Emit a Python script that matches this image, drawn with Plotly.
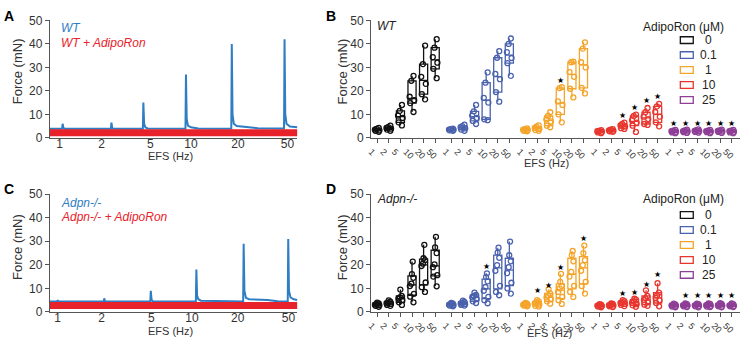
import plotly.graph_objects as go

FONT = "Liberation Sans, Arial, sans-serif"
W, H = 740, 349

freq_labels = ["1", "2", "5", "10", "20", "50"]
dose_labels = ["0", "0.1", "1", "10", "25"]
dose_colors = ["#111111", "#4a62ad", "#f5a42a", "#e8362f", "#8e3f96"]
trace_blue = "#2f7dc2"
trace_red = "#e8222a"

# ---------------- Panel A (WT traces) ----------------
A_tick_pos = [4.0, 20.9, 40.6, 57.0, 76.0, 96.0]
A_wt_t = [0, 5.0, 5.2, 5.5, 6.0, 24.7, 24.9, 25.2, 25.6, 37.6, 37.8, 38.1, 38.6, 39.5,
          54.8, 55.0, 55.3, 55.8, 57.0, 60.0, 73.3, 73.5, 73.8, 74.3, 75.5, 80.0, 84.0,
          94.6, 94.8, 95.1, 95.6, 97.0, 100]
A_wt_f = [3.9, 3.9, 6.0, 4.2, 3.9, 3.9, 6.5, 4.3, 3.9, 3.9, 15.0, 6.0, 4.5, 4.0,
          3.9, 27.0, 8.0, 5.2, 4.5, 4.0, 3.9, 40.0, 10.0, 6.0, 5.0, 4.6, 4.1,
          4.0, 42.0, 10.0, 6.0, 4.8, 4.5]
A_ar_t = [0, 100]
A_ar_f = [2.15, 2.15]

# ---------------- Panel C (Adpn-/- traces) ----------------
C_tick_pos = [3.2, 20.9, 41.0, 57.4, 75.9, 96.4]
C_ko_t = [0, 3.0, 3.2, 3.5, 21.8, 22.0, 22.3, 40.6, 40.8, 41.1, 41.6, 59.0, 59.2, 59.5,
          60.0, 61.0, 78.1, 78.3, 78.6, 79.2, 80.5, 88.0, 92.0, 96.1, 96.3, 96.6, 97.2,
          98.5, 100]
C_ko_f = [4.4, 4.4, 5.0, 4.4, 4.4, 5.8, 4.4, 4.4, 9.0, 5.2, 4.5, 4.4, 18.0, 7.0,
          5.4, 4.8, 4.4, 29.0, 9.0, 6.0, 5.4, 5.1, 4.5, 4.4, 31.0, 9.0, 6.2,
          5.4, 5.1]
C_ar_t = [0, 100]
C_ar_f = [2.7, 2.7]

# ---------------- Panel B (WT, force by dose and EFS) ----------------
WT_0 = [[2.6, 3.0, 3.2, 3.5, 3.8, 4.2],
        [3.0, 3.5, 3.9, 4.2, 4.6, 5.2],
        [5.3, 6.6, 8.5, 9.5, 11.5, 14.0],
        [11.0, 14.8, 16.0, 17.5, 24.3, 26.4],
        [16.4, 18.6, 23.0, 26.0, 31.4, 39.3],
        [25.4, 29.4, 32.0, 34.4, 38.4, 42.0]]
WT_01 = [[3.0, 3.2, 3.4, 3.5, 3.7, 3.9],
         [3.0, 3.5, 4.0, 4.5, 5.0, 5.6],
         [5.9, 7.2, 8.5, 9.5, 11.3, 14.0],
         [7.5, 7.9, 15.0, 17.0, 23.5, 27.9],
         [15.4, 19.5, 25.0, 27.2, 34.1, 36.9],
         [26.4, 31.8, 34.0, 36.5, 40.0, 42.3]]
WT_1 = [[2.8, 3.0, 3.3, 3.5, 3.7, 4.0],
        [3.0, 3.3, 3.8, 4.2, 4.8, 5.3],
        [4.5, 5.2, 7.0, 7.8, 9.3, 10.9],
        [6.6, 10.0, 14.0, 15.5, 21.2, 21.6],
        [17.2, 20.9, 26.0, 28.0, 32.2, 32.5],
        [18.9, 21.3, 30.0, 32.2, 38.0, 40.7]]
WT_10 = [[2.0, 2.3, 2.6, 2.8, 3.0, 3.3],
         [2.6, 2.8, 3.0, 3.2, 3.5, 3.7],
         [3.8, 4.1, 4.8, 5.3, 5.9, 6.5],
         [2.5, 5.2, 6.5, 7.5, 9.3, 9.9],
         [5.5, 5.9, 8.0, 9.0, 10.9, 12.7],
         [4.9, 6.6, 9.0, 11.0, 13.4, 14.5]]
WT_25 = [[2.0, 2.3, 2.6, 2.8, 3.1, 3.4],
         [2.1, 2.4, 2.7, 2.9, 3.2, 3.5],
         [2.2, 2.5, 2.8, 3.0, 3.3, 3.6],
         [2.0, 2.4, 2.6, 2.9, 3.1, 3.4],
         [2.1, 2.5, 2.7, 3.0, 3.2, 3.5],
         [2.0, 2.3, 2.6, 2.9, 3.1, 3.4]]
# significance stars: (dose index, EFS index, force level)
WT_star_dose = [2, 3, 3, 3, 3, 4, 4, 4, 4, 4, 4]
WT_star_efs = [3, 2, 3, 4, 5, 0, 1, 2, 3, 4, 5]
WT_star_y = [24.3, 9.6, 13.1, 15.8, 17.5, 6.3, 6.3, 6.3, 6.3, 6.3, 6.3]

# ---------------- Panel D (Adpn-/-) ----------------
KO_0 = [[2.2, 2.6, 2.9, 3.1, 3.3, 3.6, 4.0],
        [2.6, 3.0, 3.4, 3.7, 4.0, 4.4, 4.9],
        [3.0, 4.1, 5.0, 5.6, 6.2, 6.8, 9.5],
        [4.1, 6.5, 7.7, 11.0, 12.0, 14.5, 16.1, 21.4],
        [8.5, 10.5, 12.5, 19.5, 20.5, 22.0, 22.8, 28.5],
        [10.9, 15.0, 15.6, 19.0, 20.2, 25.0, 27.4, 31.9]]
KO_01 = [[2.4, 2.7, 2.9, 3.1, 3.3, 3.5, 3.8],
         [2.7, 3.0, 3.3, 3.6, 3.9, 4.3, 4.8],
         [3.8, 4.5, 5.5, 6.2, 6.8, 7.2, 8.2],
         [3.7, 5.0, 6.4, 9.0, 10.6, 13.0, 14.8, 16.4],
         [7.1, 8.5, 11.1, 17.5, 19.9, 23.0, 25.2, 27.3],
         [7.8, 10.0, 12.4, 16.5, 19.0, 21.5, 24.1, 29.9]]
KO_1 = [[2.4, 2.7, 2.9, 3.1, 3.3, 3.5, 3.8],
        [2.3, 2.6, 3.1, 3.6, 4.1, 4.5, 5.0],
        [3.5, 4.5, 5.4, 6.2, 7.0, 7.9, 9.6],
        [3.4, 5.0, 6.4, 8.5, 10.0, 11.0, 12.8, 16.2],
        [6.4, 8.5, 11.1, 15.0, 17.0, 21.5, 24.1, 25.9],
        [7.8, 11.0, 12.8, 17.5, 19.9, 22.0, 25.0, 28.2]]
KO_10 = [[2.0, 2.3, 2.5, 2.7, 2.9, 3.1, 3.3],
         [2.1, 2.4, 2.7, 2.9, 3.1, 3.4, 3.6],
         [2.5, 3.0, 3.4, 3.8, 4.2, 4.6, 5.0],
         [2.2, 2.8, 3.3, 3.9, 4.6, 5.2, 5.6],
         [2.6, 3.1, 4.2, 5.0, 5.8, 6.8, 9.2],
         [2.4, 3.8, 5.0, 6.0, 7.0, 8.2, 12.2]]
KO_25 = [[2.0, 2.3, 2.6, 2.8, 3.0, 3.2, 3.5],
         [2.1, 2.4, 2.7, 2.9, 3.1, 3.3, 3.6],
         [2.0, 2.4, 2.6, 2.8, 3.1, 3.3, 3.5],
         [2.1, 2.3, 2.6, 2.9, 3.1, 3.4, 3.6],
         [2.0, 2.4, 2.7, 2.9, 3.2, 3.4, 3.7],
         [2.1, 2.4, 2.6, 2.8, 3.0, 3.3, 3.6]]
KO_star_dose = [1, 2, 2, 2, 2, 3, 3, 3, 3, 4, 4, 4, 4, 4]
KO_star_efs = [3, 1, 2, 3, 5, 2, 3, 4, 5, 1, 2, 3, 4, 5]
KO_star_y = [19.2, 9.0, 11.3, 18.8, 31.3, 8.0, 8.4, 11.5, 15.8, 6.8, 6.8, 6.8, 6.8, 6.8]

STRIDE = 6.4


def px_x(px):
    return px / W


def px_y(px):
    return 1 - px / H


fig = go.Figure()

# trace panels
fig.add_trace(go.Scatter(x=A_wt_t, y=A_wt_f, mode="lines", line=dict(color=trace_blue, width=2),
                         xaxis="x", yaxis="y", showlegend=False, hoverinfo="skip"))
fig.add_trace(go.Scatter(x=A_ar_t, y=A_ar_f, mode="lines", line=dict(color=trace_red, width=7),
                         xaxis="x", yaxis="y", showlegend=False, hoverinfo="skip"))
fig.add_trace(go.Scatter(x=C_ko_t, y=C_ko_f, mode="lines", line=dict(color=trace_blue, width=2),
                         xaxis="x3", yaxis="y3", showlegend=False, hoverinfo="skip"))
fig.add_trace(go.Scatter(x=C_ar_t, y=C_ar_f, mode="lines", line=dict(color=trace_red, width=7),
                         xaxis="x3", yaxis="y3", showlegend=False, hoverinfo="skip"))


def add_boxes(groups, xa, ya):
    for g, (data, color) in enumerate(zip(groups, dose_colors)):
        for i, vals in enumerate(data):
            fig.add_trace(go.Box(
                x=[g * STRIDE + i] * len(vals), y=vals, xaxis=xa, yaxis=ya,
                width=0.7, boxpoints="all", jitter=0.7, pointpos=0,
                quartilemethod="exclusive", whiskerwidth=0, fillcolor="white",
                line=dict(color=color, width=1.3),
                marker=dict(symbol="circle-open", size=5, color=color, line=dict(width=1.3)),
                showlegend=False, hoverinfo="skip"))


add_boxes([WT_0, WT_01, WT_1, WT_10, WT_25], "x2", "y2")
add_boxes([KO_0, KO_01, KO_1, KO_10, KO_25], "x4", "y4")

box_tickvals = [g * STRIDE + i for g in range(len(dose_labels)) for i in range(len(freq_labels))]
box_ticktext = freq_labels * len(dose_labels)

LINE = "#555555"
TICKC = "#333333"
yA_dom = [px_y(136.3), px_y(14)]
yC_dom = [px_y(317.7), px_y(195)]
y_common = dict(range=[0, 50], tickvals=[0, 10, 20, 30, 40, 50], showline=True, linecolor=LINE,
                linewidth=1, ticks="outside", ticklen=4, tickcolor=LINE, showgrid=False,
                zeroline=False, tickfont=dict(size=12, color=TICKC, family=FONT))
xtrace_common = dict(range=[0, 100], showline=True, linecolor=LINE, linewidth=1, ticks="",
                     ticklen=0, ticklabelstandoff=-5,
                     showgrid=False, zeroline=False, ticktext=freq_labels,
                     tickfont=dict(size=12, color=TICKC, family=FONT))
xbox_common = dict(range=[-0.54, 31.31], showline=True, linecolor=LINE, linewidth=1.2,
                   ticks="outside", ticklen=4, tickcolor=LINE, showgrid=False, zeroline=False,
                   tickvals=box_tickvals, ticktext=box_ticktext, tickangle=45,
                   ticklabelshift=-6,
                   tickfont=dict(size=9, color=TICKC, family=FONT))

fig.update_layout(
    width=W, height=H, margin=dict(l=0, r=0, t=0, b=0),
    paper_bgcolor="white", plot_bgcolor="white",
    font=dict(family=FONT, color="#222222"),
    xaxis=dict(domain=[px_x(46), px_x(295)], anchor="y", tickvals=A_tick_pos, **xtrace_common),
    yaxis=dict(domain=yA_dom, anchor="x", **y_common),
    xaxis2=dict(domain=[px_x(369), 1.0], anchor="y2", **xbox_common),
    yaxis2=dict(domain=yA_dom, anchor="x2", **y_common),
    xaxis3=dict(domain=[px_x(46), px_x(295)], anchor="y3", tickvals=C_tick_pos, **xtrace_common),
    yaxis3=dict(domain=yC_dom, anchor="x3", **y_common),
    xaxis4=dict(domain=[px_x(369), 1.0], anchor="y4", **xbox_common),
    yaxis4=dict(domain=yC_dom, anchor="x4", **y_common),
)

ann = []


def text(px, py, s, size=12, color="#222222", angle=0, xanchor="center", bold=False, italic=False):
    if italic:
        s = "<i>" + s + "</i>"
    if bold:
        s = "<b>" + s + "</b>"
    ann.append(dict(x=px_x(px), y=px_y(py), xref="paper", yref="paper", text=s, showarrow=False,
                    textangle=angle, xanchor=xanchor, yanchor="middle",
                    font=dict(size=size, color=color, family=FONT)))


# panel letters
text(5, 9, "A", size=14, bold=True, color="#000")
text(329, 9, "B", size=14, bold=True, color="#000")
text(5, 190, "C", size=14, bold=True, color="#000")
text(329, 190, "D", size=14, bold=True, color="#000")
# axis titles
for (xp, yp) in [(13, 67), (340, 67), (14, 250), (341, 250)]:
    text(xp, yp, "Force (mN)", size=13, angle=-90, color="#333")
for (xp, yp) in [(167, 155), (545, 163), (167, 338), (548, 340)]:
    text(xp, yp, "EFS (Hz)", size=11, color="#333")
# trace legends
text(55, 22, "WT", size=12, color=trace_blue, xanchor="left", italic=True)
text(55, 38, "WT + AdipoRon", size=12, color=trace_red, xanchor="left", italic=True)
text(55, 204, "Adpn-/-", size=12, color=trace_blue, xanchor="left", italic=True)
text(55, 219, "Adpn-/- + AdipoRon", size=12, color=trace_red, xanchor="left", italic=True)
# genotype labels in box panels
text(373, 20, "WT", size=12, color="#222", xanchor="left", italic=True)
text(373, 200, "Adpn-/-", size=12, color="#222", xanchor="left", italic=True)

# dose legends
shapes = []
for title_y, row0 in [(20.7, 34.5), (200, 216.7)]:
    text(683, title_y, "AdipoRon (μM)", size=12, color="#222")
    for k, (lab, col) in enumerate(zip(dose_labels, dose_colors)):
        cy = row0 + k * 15.6
        shapes.append(dict(type="rect", xref="paper", yref="paper",
                           x0=px_x(680), x1=px_x(693), y0=px_y(cy + 3.5), y1=px_y(cy - 3.5),
                           line=dict(color=col, width=1.3), fillcolor="white"))
        text(708.5, cy, lab, size=12, color="#222")

# significance stars
for sd, se, sy in zip(WT_star_dose, WT_star_efs, WT_star_y):
    ann.append(dict(x=sd * STRIDE + se, y=sy, xref="x2", yref="y2", text="★", showarrow=False,
                    font=dict(size=8, color="#000", family="DejaVu Sans")))
for sd, se, sy in zip(KO_star_dose, KO_star_efs, KO_star_y):
    ann.append(dict(x=sd * STRIDE + se, y=sy, xref="x4", yref="y4", text="★", showarrow=False,
                    font=dict(size=8, color="#000", family="DejaVu Sans")))

fig.update_layout(annotations=ann, shapes=shapes)
fig.write_html("out.html", config={"displayModeBar": False},
               post_script="document.body.style.margin='0px';")
